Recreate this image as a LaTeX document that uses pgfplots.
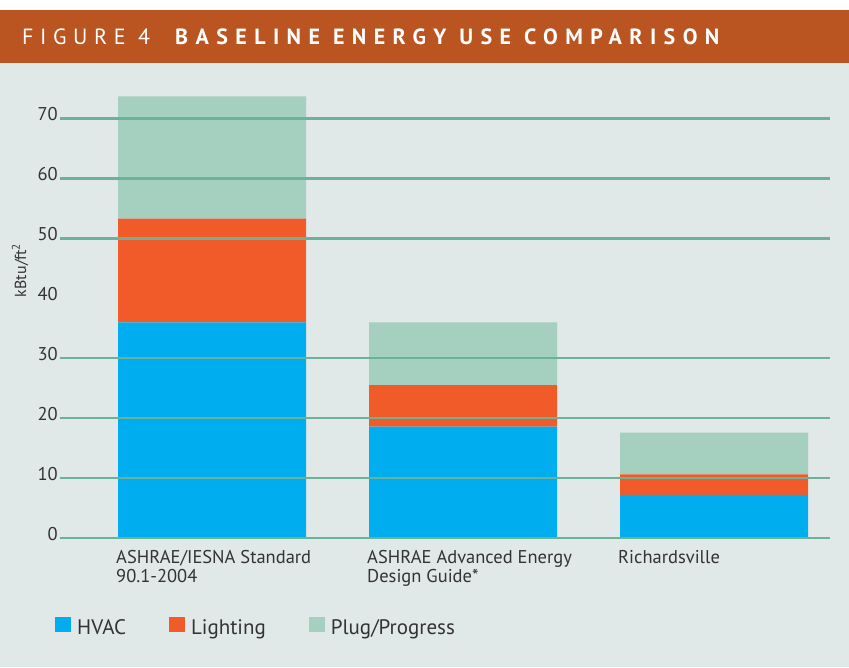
\documentclass[border=0pt]{standalone}
\usepackage{pgfplots}
\pgfplotsset{compat=1.18}
\usepackage{fontspec}
\setmainfont{PT Sans}
\newfontfamily\titlefont[LetterSpace=30]{PT Sans}
\newfontfamily\titlefontb[LetterSpace=33.7]{PT Sans Bold}
\definecolor{hdr}{RGB}{186,84,32}
\definecolor{bg}{RGB}{225,232,232}
\definecolor{hvac}{RGB}{0,174,239}
\definecolor{light}{RGB}{241,90,41}
\definecolor{plug}{RGB}{165,207,191}
\definecolor{gridc}{RGB}{108,178,152}
\definecolor{txt}{RGB}{51,51,51}
\begin{document}
\begin{tikzpicture}[x=1pt,y=1pt]
\useasboundingbox (0,0) rectangle (849,667);
\fill[white] (0,0) rectangle (849,667);
\fill[bg] (0,0) rectangle (849,604);
\fill[hdr] (0,604) rectangle (849,657);
\node[anchor=base west, inner sep=0pt, text=white, font=\titlefont\fontsize{22}{24}\selectfont] at (22,622) {FIGURE 4};
\node[anchor=base west, inner sep=0pt, text=white, font=\titlefontb\fontsize{22}{24}\selectfont] at (175,622) {BASELINE ENERGY USE COMPARISON};
\begin{axis}[
  at={(60pt,129pt)}, anchor=south west,
  scale only axis, width=770pt, height=449.3pt,
  xmin=-0.6056, xmax=2.462, ymin=0, ymax=75,
  ybar stacked, bar width=0.749,
  axis on top,
  axis line style={draw=none},
  tick style={draw=none},
  major tick length=0pt,
  ytick={0,10,20,30,50,60,70},
  extra y ticks={40}, extra y tick style={grid=none},
  ymajorgrids, grid style={line width=2.4pt, color=gridc},
  /pgf/number format/assume math mode=true,
  yticklabel style={anchor=base east, inner sep=0pt, xshift=-2pt, yshift=-2pt, font=\fontsize{18.5}{20}\selectfont, text=txt},
  xtick={0,1,2},
  xticklabels={{ASHRAE/IESNA Standard\\90.1-2004},{ASHRAE Advanced Energy\\Design Guide*},{Richardsville}},
  xticklabel style={align=left, anchor=north west, inner sep=0pt, xshift=-96pt, yshift=-12pt, font=\fontsize{18.5}{19}\selectfont, text=txt},
  ylabel={kBtu/ft\textsuperscript{2}},
  ylabel style={at={(axis description cs:-0.0519,0.596)}, anchor=center, font=\fontsize{16}{18}\selectfont, text=txt},
  legend columns=-1,
  legend image code/.code={\fill[#1] (0pt,-4pt) rectangle (16pt,11pt);},
  legend style={at={(axis description cs:-0.0065,-0.197)}, anchor=west, draw=none, fill=none,
    inner sep=0pt, font=\fontsize{21}{24}\selectfont, text=txt,
    nodes={inner sep=0pt},
    /tikz/every even column/.append style={column sep=43pt},
    /tikz/every odd column/.append style={column sep=6pt}},
]
\addplot[fill=hvac, draw=none] coordinates {(0,36.0) (1,18.6) (2,7.2)};
\addlegendentry{HVAC}
\addplot[fill=light, draw=none] coordinates {(0,17.3) (1,6.9) (2,3.4)};
\addlegendentry{Lighting}
\addplot[fill=plug, draw=none] coordinates {(0,20.4) (1,10.5) (2,7.0)};
\addlegendentry{Plug/Progress}
\end{axis}
\end{tikzpicture}
\end{document}
